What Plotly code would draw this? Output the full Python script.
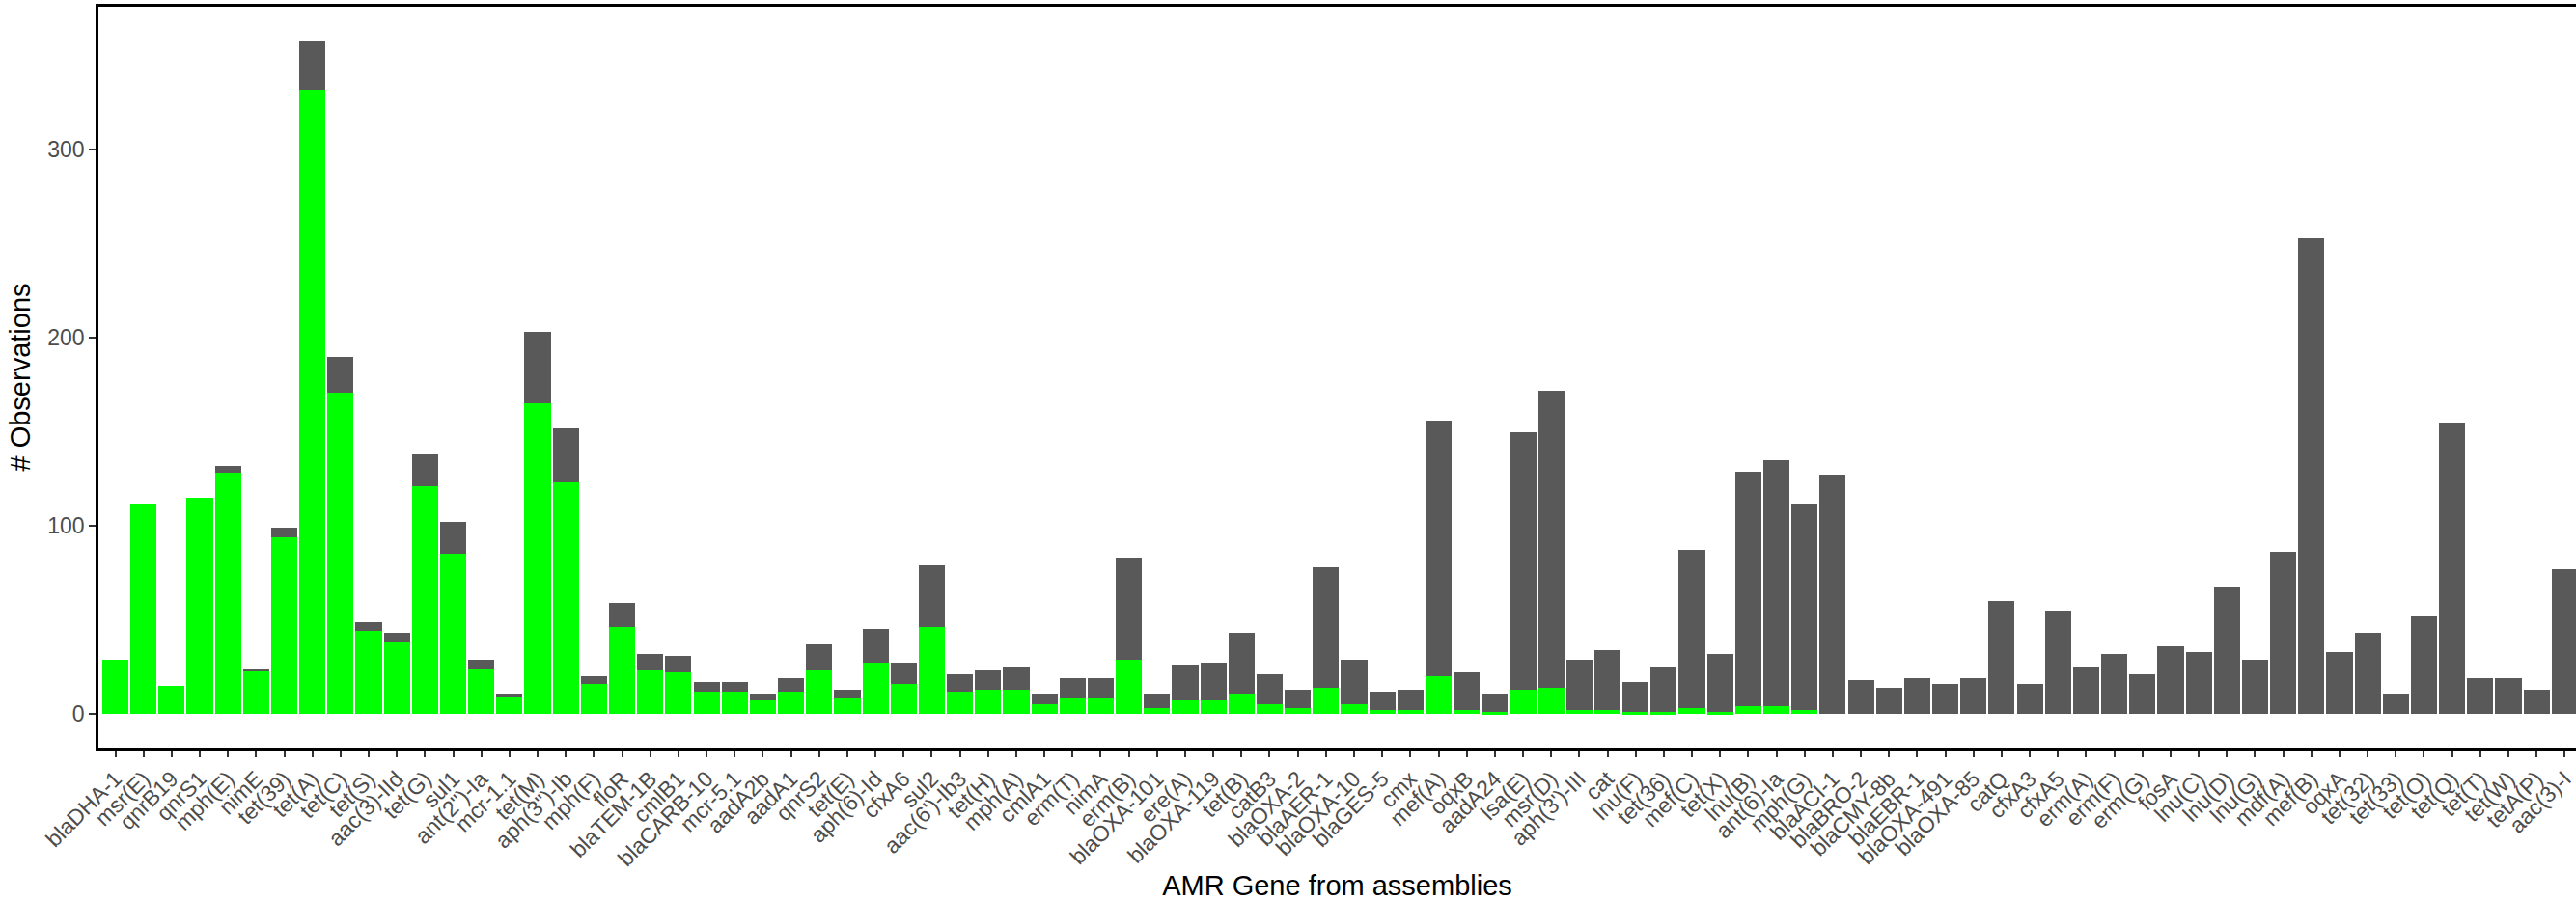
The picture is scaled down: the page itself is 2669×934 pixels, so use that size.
import plotly.graph_objects as go

# AMR genes detected in assemblies, in plotting order
genes = [
    "blaDHA-1", "msr(E)", "qnrB19", "qnrS1", "mph(E)", "nimE", "tet(39)", "tet(A)",
    "tet(C)", "tet(S)", "aac(3)-IId", "tet(G)", "sul1", "ant(2\")-Ia", "mcr-1.1",
    "tet(M)", "aph(3\")-Ib", "mph(F)", "floR", "blaTEM-1B", "cmlB1", "blaCARB-10",
    "mcr-5.1", "aadA2b", "aadA1", "qnrS2", "tet(E)", "aph(6)-Id", "cfxA6", "sul2",
    "aac(6')-Ib3", "tet(H)", "mph(A)", "cmlA1", "erm(T)", "nimA", "erm(B)",
    "blaOXA-101", "ere(A)", "blaOXA-119", "tet(B)", "catB3", "blaOXA-2", "blaAER-1",
    "blaOXA-10", "blaGES-5", "cmx", "mef(A)", "oqxB", "aadA24", "lsa(E)", "msr(D)",
    "aph(3')-III", "cat", "lnu(F)", "tet(36)", "mef(C)", "tet(X)", "lnu(B)",
    "ant(6)-Ia", "mph(G)", "blaACI-1", "blaBRO-2", "blaCMY-8b", "blaEBR-1",
    "blaOXA-491", "blaOXA-85", "catQ", "cfxA3", "cfxA5", "erm(A)", "erm(F)",
    "erm(G)", "fosA", "lnu(C)", "lnu(D)", "lnu(G)", "mdf(A)", "mef(B)", "oqxA",
    "tet(32)", "tet(33)", "tet(O)", "tet(Q)", "tet(T)", "tet(W)", "tetA(P)", "aac(3)-I",
]

# total observations per gene
total_obs = [
    29, 112, 15, 115, 132, 24, 99, 358,
    190, 49, 43, 138, 102, 29, 11,
    203, 152, 20, 59, 32, 31, 17,
    17, 11, 19, 37, 13, 45, 27, 79,
    21, 23, 25, 11, 19, 19, 83,
    11, 26, 27, 43, 21, 13, 78,
    29, 12, 13, 156, 22, 11, 150, 172,
    29, 34, 17, 25, 87, 32, 129,
    135, 112, 127, 18, 14, 19,
    16, 19, 60, 16, 55, 25, 32,
    21, 36, 33, 67, 29, 86, 253, 33,
    43, 11, 52, 155, 19, 19, 13, 77,
]

# observations that were also found in reads (green part of each bar)
matched_obs = [
    29, 112, 15, 115, 128, 23, 94, 332,
    171, 44, 38, 121, 85, 24, 9,
    165, 123, 16, 46, 23, 22, 12,
    12, 7, 12, 23, 8, 27, 16, 46,
    12, 13, 13, 5, 8, 8, 29,
    3, 7, 7, 11, 5, 3, 14,
    5, 2, 2, 20, 2, 1, 13, 14,
    2, 2, 1, 1, 3, 1, 4,
    4, 2, 0, 0, 0, 0,
    0, 0, 0, 0, 0, 0, 0,
    0, 0, 0, 0, 0, 0, 0, 0,
    0, 0, 0, 0, 0, 0, 0, 0,
]

unmatched_obs = [t - m for t, m in zip(total_obs, matched_obs)]

GREEN = "#00FF00"
GREY = "#595959"
FONT = "Liberation Sans, Arial, Helvetica, sans-serif"

fig = go.Figure()
fig.add_trace(go.Bar(
    x=genes, y=matched_obs, marker=dict(color=GREEN, line=dict(width=0)),
    width=0.93, name="matched",
))
fig.add_trace(go.Bar(
    x=genes, y=unmatched_obs, marker=dict(color=GREY, line=dict(width=0)),
    width=0.93, name="unmatched",
))

ymax = max(total_obs)
pad = ymax * 0.05

fig.update_layout(
    barmode="stack",
    bargap=0,
    width=2669,
    height=934,
    margin=dict(l=102, r=0, t=7, b=159),
    paper_bgcolor="white",
    plot_bgcolor="white",
    showlegend=False,
    font=dict(family=FONT, size=23, color="#4D4D4D"),
    xaxis=dict(
        type="category",
        range=[-0.6, len(genes) - 0.6],
        tickangle=-45,
        ticks="outside",
        ticklen=7,
        tickwidth=2,
        tickcolor="#333333",
        showline=True,
        linecolor="black",
        linewidth=2.5,
        mirror=True,
        showgrid=False,
        zeroline=False,
        tickfont=dict(family=FONT, size=23, color="#4D4D4D"),
        title=dict(text="AMR Gene from assemblies",
                   font=dict(family=FONT, size=29, color="black"),
                   standoff=8),
        automargin=False,
    ),
    yaxis=dict(
        range=[-pad, ymax + pad],
        tickvals=[0, 100, 200, 300],
        ticks="outside",
        ticklen=7,
        tickwidth=2,
        tickcolor="#333333",
        showline=True,
        linecolor="black",
        linewidth=2.5,
        showgrid=False,
        zeroline=False,
        tickfont=dict(family=FONT, size=23, color="#4D4D4D"),
        title=dict(text="# Observations",
                   font=dict(family=FONT, size=29, color="black"),
                   standoff=10),
        automargin=False,
    ),
)

fig.write_html("out.html")
